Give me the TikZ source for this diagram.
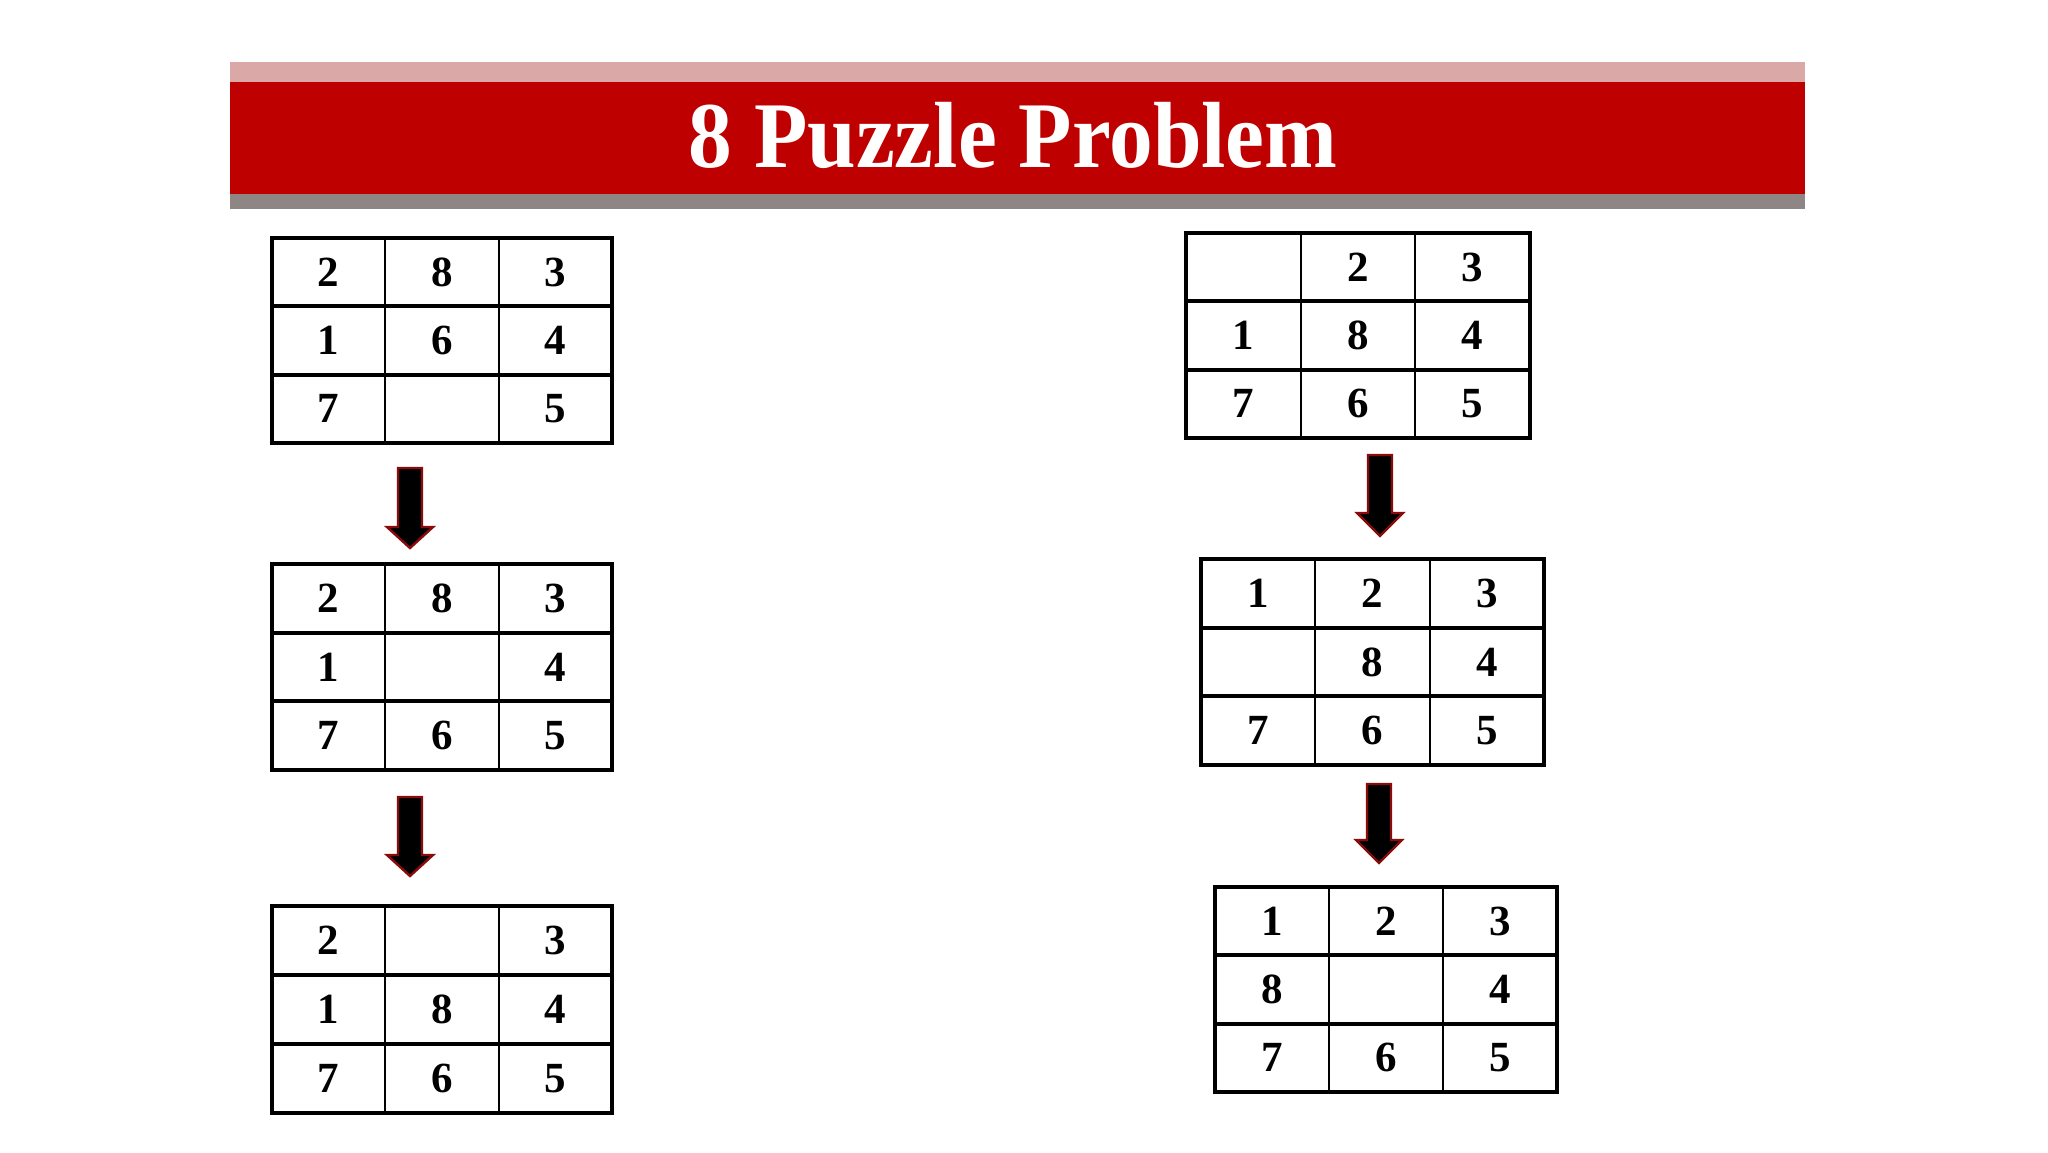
\documentclass[tikz,border=0pt]{standalone}
\usepackage{fontspec}
\setmainfont{Liberation Serif}
\definecolor{barred}{HTML}{BE0000}
\definecolor{barpink}{HTML}{DBA8A8}
\definecolor{bargray}{HTML}{8E8585}
\definecolor{arrowedge}{HTML}{8B0A0A}
\tikzset{
  thickline/.style={line width=2pt, line cap=rect},
  thinline/.style={line width=1pt},
  digit/.style={font=\fontsize{21.5}{24}\selectfont\bfseries, inner sep=0pt},
  blockarrow/.style={fill=black, draw=arrowedge, line width=1.2pt, line join=miter},
  titletext/.style={font=\fontsize{47}{52}\selectfont\bfseries, text=white, inner sep=0pt, xscale=0.93}
}
% name, left, top, right, bottom, nine entries
\newcommand\pgrid[6]{%
  \pgfmathsetmacro\cw{(#4-#2)/3}%
  \pgfmathsetmacro\ch{(#5-#3)/3}%
  \coordinate (#1-nw) at (#2,#3);
  \coordinate (#1-se) at (#4,#5);
  \draw[thinline] ({#2+\cw},#3) -- ({#2+\cw},#5) ({#2+2*\cw},#3) -- ({#2+2*\cw},#5);
  \draw[thickline] (#2,{#3+\ch}) -- (#4,{#3+\ch}) (#2,{#3+2*\ch}) -- (#4,{#3+2*\ch});
  \draw[thickline] (#1-nw) rectangle (#1-se);
  \foreach \v [count=\i from 0] in {#6} {%
    \pgfmathtruncatemacro\cc{mod(\i,3)}%
    \pgfmathtruncatemacro\rr{div(\i,3)}%
    \node[digit] (#1-\i) at ({#2+(\cc+0.5)*\cw},{#3+(\rr+0.5)*\ch}) {\v};
  }%
}
% name, cx, top, head base, tip
\newcommand\darrow[5]{%
  \coordinate (#1-top) at (#2,#3);
  \coordinate (#1-tip) at (#2,#5);
  \draw[blockarrow] ({#2-12},#3) -- ({#2+12},#3) -- ({#2+12},#4) -- ({#2+23},#4)
     -- (#1-tip) -- ({#2-23},#4) -- ({#2-12},#4) -- cycle;
}
\begin{document}
\begin{tikzpicture}[x=0.5pt,y=-0.5pt]
\useasboundingbox[fill=white] (0,0) rectangle (2048,1152);
% title bar
\fill[barpink] (230,62) rectangle (1805,82);
\fill[barred] (230,82) rectangle (1805,194);
\fill[bargray] (230,194) rectangle (1805,209);
\node[titletext, anchor=base] (title) at (1013,167) {8 Puzzle Problem};
% left column
\pgrid{L1}{272}{238}{612}{443}{2,8,3,1,6,4,7,{},5}
\darrow{LA1}{410}{468}{527}{548}
\pgrid{L2}{272}{564}{612}{770}{2,8,3,1,{},4,7,6,5}
\darrow{LA2}{410}{797}{855}{876}
\pgrid{L3}{272}{906}{612}{1113}{2,{},3,1,8,4,7,6,5}
% right column
\pgrid{R1}{1186}{233}{1530}{438}{{},2,3,1,8,4,7,6,5}
\darrow{RA1}{1380}{455}{513}{536}
\pgrid{R2}{1201}{559}{1544}{765}{1,2,3,{},8,4,7,6,5}
\darrow{RA2}{1379}{784}{840}{863}
\pgrid{R3}{1215}{887}{1557}{1092}{1,2,3,8,{},4,7,6,5}
\end{tikzpicture}
\end{document}
